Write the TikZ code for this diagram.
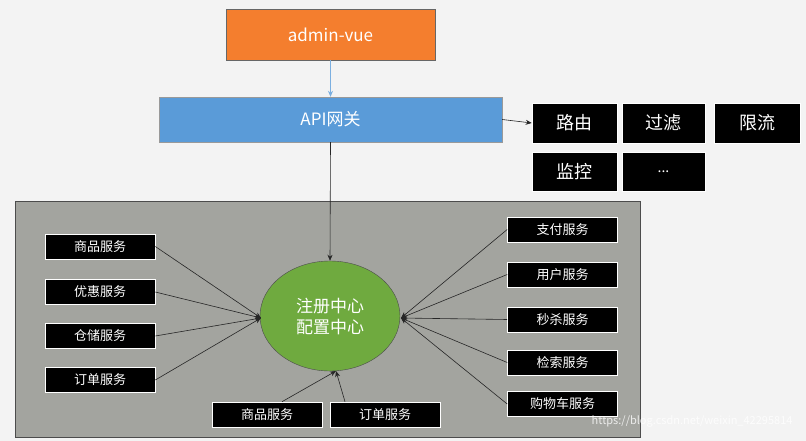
\documentclass[tikz,border=0pt]{standalone}
\usepackage{fontspec}
\setmainfont{Noto Sans CJK SC}
\usetikzlibrary{arrows.meta,shapes.geometric}
\definecolor{bg}{HTML}{F3F3F3}
\definecolor{org}{HTML}{F47E2E}
\definecolor{blu}{HTML}{5A9BD8}
\definecolor{pan}{HTML}{A3A49F}
\definecolor{grn}{HTML}{6FAA3F}
\begin{document}
\begin{tikzpicture}[x=1pt,y=-1pt,
  blk/.style={draw=white,fill=black,text=white,line width=0.6pt,inner sep=0pt,font=\fontsize{18}{20}\selectfont},
  svc/.style={draw=white,fill=black,text=white,line width=0.6pt,minimum width=110pt,minimum height=25pt,inner sep=0pt,font=\fontsize{13}{15}\selectfont},
  con/.style={-{Stealth[length=6pt,width=5pt]},line width=0.6pt,draw=black!85}]
\fill[bg] (0,0) rectangle (806,441);
\useasboundingbox (0,0) rectangle (806,441);
\node[draw=black!60,fill=org,text=white,minimum width=209pt,minimum height=51pt,font=\fontsize{17}{19}\selectfont] (admin) at (330.5,34.5) {admin-vue};
\node[draw=black!40,fill=blu,text=white,minimum width=343pt,minimum height=45pt,font=\fontsize{17}{19}\selectfont] (api) at (330.5,119.5) {API网关};
\draw[-{Stealth[length=6pt,width=5pt]},line width=0.6pt,draw=blu!80] (admin) -- (api);
\node[blk,minimum width=85pt,minimum height=40pt] (ly) at (574.5,123) {路由};
\node[blk,minimum width=83pt,minimum height=40pt] (gl) at (663.5,123) {过滤};
\node[blk,minimum width=86pt,minimum height=40pt] (xl) at (757,123) {限流};
\node[blk,minimum width=85pt,minimum height=39pt] (jk) at (574.5,171.5) {监控};
\node[blk,minimum width=83pt,minimum height=39pt,font=\fontsize{14}{16}\selectfont] (dd) at (663.5,171.5) {...};
\draw[con] (api.east) -- (ly.west);
\draw[draw=black!70,fill=pan,line width=0.8pt] (15,201) rectangle (640,437);
\node[ellipse,draw=black!70,fill=grn,text=white,minimum width=140pt,minimum height=110pt,align=center,inner sep=0pt,font=\fontsize{17}{21}\selectfont] (reg) at (330,316) {注册中心\\配置中心};
\draw[con] (api.south) -- (reg.north);
\node[svc] (l1) at (100,246.5) {商品服务};
\node[svc] (l2) at (100,292) {优惠服务};
\node[svc] (l3) at (100,336) {仓储服务};
\node[svc] (l4) at (100,380) {订单服务};
\node[svc] (r1) at (562.5,229.5) {支付服务};
\node[svc] (r2) at (562.5,274.5) {用户服务};
\node[svc] (r3) at (562.5,319.5) {秒杀服务};
\node[svc] (r4) at (562.5,362.5) {检索服务};
\node[svc] (r5) at (562.5,404) {购物车服务};
\node[svc] (b1) at (267,414.5) {商品服务};
\node[svc] (b2) at (385,414.5) {订单服务};
\coordinate (lp) at (261,318);
\coordinate (rp) at (401,318);
\coordinate (bp) at (336,371);
\foreach \n in {l1,l2,l3,l4} \draw[con] (\n.east) -- (lp);
\foreach \n in {r1,r2,r3,r4,r5} \draw[con] (\n.west) -- (rp);
\draw[con] (b1.north) ++(15,0) -- (bp);
\draw[con] (b2.north) ++(-40,0) -- (bp);
\node[text=white,opacity=0.8,anchor=east,font=\fontsize{11}{13}\selectfont] (wm) at (796,421) {https://blog.csdn.net/weixin\_42295814};
\end{tikzpicture}
\end{document}
